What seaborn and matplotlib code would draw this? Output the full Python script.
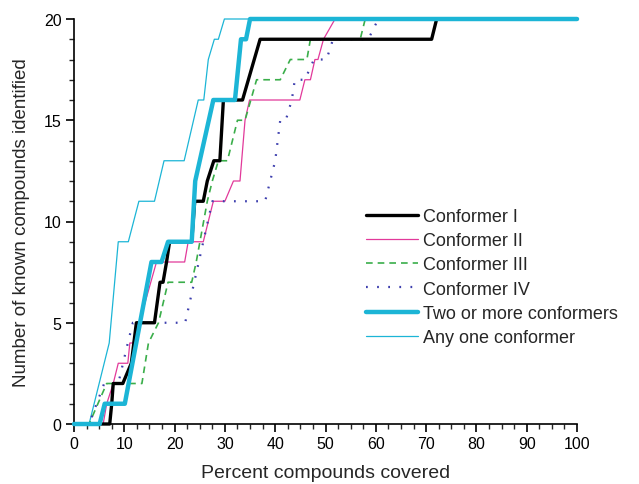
import matplotlib
matplotlib.use("Agg")
import matplotlib.pyplot as plt
import seaborn as sns
import pandas as pd
from matplotlib.ticker import MultipleLocator

# ---- data ----
conf1_x = [0, 7.1, 7.5, 7.8, 9.7, 11.4, 12.4, 16.0, 17.1, 17.7, 18.4, 19.0, 23.4, 24.0, 25.7, 26.5, 27.8, 29.0, 29.7, 32.3, 33.5, 37.0, 71.1, 72.1, 100]
conf1_y = [0, 0, 1, 2, 2, 3, 5, 5, 7, 7, 8, 9, 9, 11, 11, 12, 13, 13, 16, 16, 16, 19, 19, 20, 20]

conf2_x = [0, 5.8, 6.5, 7.8, 8.8, 10.7, 11.1, 11.7, 13.0, 16.4, 22.0, 22.7, 25.7, 27.7, 30.0, 31.7, 33.0, 34.0, 34.9, 44.9, 45.9, 47.0, 47.9, 48.5, 49.6, 51.9, 100]
conf2_y = [0, 0, 1, 2, 3, 3, 4, 4, 5, 8, 8, 9, 9, 11, 11, 12, 12, 15, 16, 16, 17, 17, 18, 18, 19, 20, 20]

conf3_x = [0, 3.0, 6.5, 13.5, 14.8, 16.8, 18.7, 23.4, 24.3, 26.5, 27.5, 28.7, 30.5, 32.5, 34.0, 36.3, 41.0, 43.0, 46.3, 47.0, 56.9, 57.9, 100]
conf3_y = [0, 0, 2, 2, 4, 5, 7, 7, 8, 11, 12, 13, 13, 15, 15, 17, 17, 18, 18, 19, 19, 20, 20]

conf4_x = [0, 3.0, 4.5, 6.0, 8.8, 10.7, 11.7, 22.1, 25.7, 27.5, 38.0, 40.0, 41.0, 42.1, 43.3, 43.9, 45.9, 47.7, 50.2, 51.5, 58.5, 60.5, 100]
conf4_y = [0, 0, 1, 2, 2, 4, 5, 5, 9, 11, 11, 13, 15, 15, 16, 17, 17, 18, 18, 19, 19, 20, 20]

two_x = [0, 5.1, 6.1, 10.1, 15.4, 17.4, 18.7, 23.4, 24.1, 27.7, 32.0, 33.2, 34.2, 35.0, 100]
two_y = [0, 0, 1, 1, 8, 8, 9, 9, 12, 16, 16, 19, 19, 20, 20]

any_x = [0, 3.0, 7.0, 8.8, 10.8, 12.9, 16.0, 17.9, 21.9, 24.7, 25.8, 26.7, 27.9, 28.7, 29.9, 100]
any_y = [0, 0, 4, 9, 9, 11, 11, 13, 13, 16, 16, 18, 19, 19, 20, 20]

labels = ["Conformer I", "Conformer II", "Conformer III", "Conformer IV",
          "Two or more conformers", "Any one conformer"]

sns.set_style("ticks")
plt.rcParams['font.family'] = ['Liberation Sans', 'DejaVu Sans']

fig = plt.figure(figsize=(6.39, 4.85), dpi=100)
ax = fig.add_axes([74/639, 60/485, 503/639, 405/485])

series = [
    (conf1_x, conf1_y, dict(color="black", lw=2.4, ls="-", zorder=4)),
    (conf2_x, conf2_y, dict(color="#e2399a", lw=0.9, ls="-", zorder=3)),
    (conf3_x, conf3_y, dict(color="#3aae4a", lw=1.2, ls=(0, (4, 3)), zorder=3)),
    (conf4_x, conf4_y, dict(color="#3d3fae", lw=1.6, ls=(0, (0.8, 4.2)), zorder=3)),
    (two_x, two_y, dict(color="#1cb5d6", lw=3.2, ls="-", zorder=5)),
    (any_x, any_y, dict(color="#1cb5d6", lw=0.9, ls="-", zorder=2)),
]

for (xs, ys, st), lab in zip(series, labels):
    df = pd.DataFrame({"x": xs, "y": ys})
    sns.lineplot(data=df, x="x", y="y", ax=ax, sort=False, estimator=None,
                 label=lab, color=st["color"], linewidth=st["lw"],
                 linestyle=st["ls"], zorder=st["zorder"], clip_on=False)

ax.set_xlim(0, 100)
ax.set_ylim(0, 20)
ax.xaxis.set_major_locator(MultipleLocator(10))
ax.xaxis.set_minor_locator(MultipleLocator(2.5))
ax.yaxis.set_major_locator(MultipleLocator(5))
ax.yaxis.set_minor_locator(MultipleLocator(1))
ax.tick_params(which="major", direction="out", length=6, width=1.2, labelsize=11.5, colors="black", pad=3)
ax.tick_params(which="minor", direction="out", length=3.5, width=1.0)
for s in ["top", "right"]:
    ax.spines[s].set_visible(False)
for s in ["left", "bottom"]:
    ax.spines[s].set_linewidth(1.2)
    ax.spines[s].set_color("black")

ax.set_xlabel("Percent compounds covered", fontsize=14, labelpad=9)
ax.set_ylabel("Number of known compounds identified", fontsize=13.5, labelpad=10)

leg = ax.legend(loc="upper left", bbox_to_anchor=(366/639, 1 - 209/485),
                bbox_transform=fig.transFigure, frameon=False, fontsize=13,
                handlelength=2.9, handletextpad=0.25, labelspacing=0.40,
                borderpad=0, borderaxespad=0)

fig.savefig("out.png", dpi=100)
